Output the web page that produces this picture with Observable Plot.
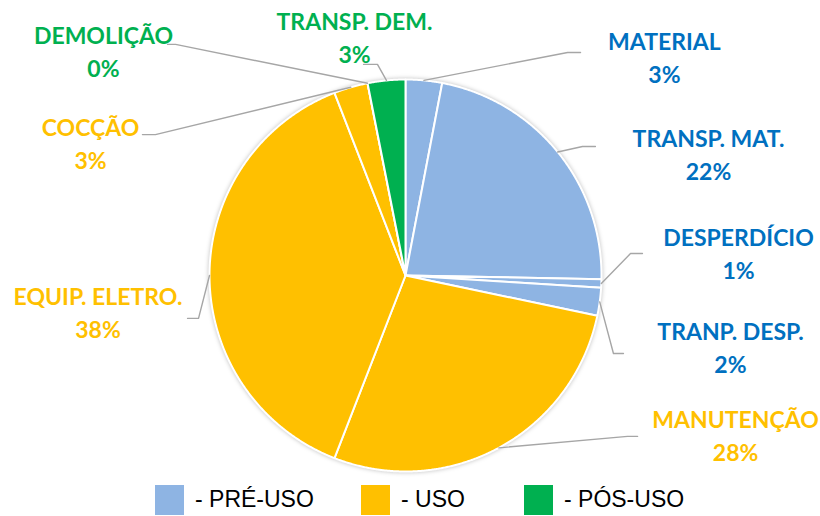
<!DOCTYPE html>
<html><head><meta charset="utf-8">
<script src="https://cdn.jsdelivr.net/npm/d3@7"></script>
<script src="https://cdn.jsdelivr.net/npm/@observablehq/plot@0.6"></script>
<style>
body{margin:0;background:#fff;}
#wrap{position:relative;width:820px;height:516px;overflow:hidden;}
#chart svg g[aria-label="line"]:first-of-type{filter:drop-shadow(0 0 2px rgba(0,0,0,0.25));}
#legend{position:absolute;left:0;top:480px;width:820px;height:36px;}
.key{position:absolute;top:5px;width:29px;height:30px;}
.lab{position:absolute;top:4px;font-family:"Liberation Sans",Arial,sans-serif;font-size:23px;line-height:30px;color:#000;white-space:nowrap;}
</style></head><body>
<div id="wrap"><div id="chart"></div><div id="legend"></div></div>
<script>
// ---- data ----
const categories = ["MATERIAL","TRANSP. MAT.","DESPERDÍCIO","TRANP. DESP.","MANUTENÇÃO","EQUIP. ELETRO.","COCÇÃO","DEMOLIÇÃO","TRANSP. DEM."];
const shares = [3.0, 22.3, 0.7, 2.3, 27.6, 38.2, 2.8, 0.0, 3.1];
const percentLabels = ["3%","22%","1%","2%","28%","38%","3%","0%","3%"];
const phases = ["PRÉ-USO","PRÉ-USO","PRÉ-USO","PRÉ-USO","USO","USO","USO","PÓS-USO","PÓS-USO"];
const phaseOrder = ["PRÉ-USO","USO","PÓS-USO"];
const legendLabels = ["- PRÉ-USO","- USO","- PÓS-USO"];

// ---- layout (pie-radius units) ----
const labelX = [1.321, 1.546, 1.699, 1.658, 1.684, -1.569, -1.607, -1.541, -0.260];
const labelY = [1.153, 0.658, 0.148, -0.327, -0.776, -0.153, 0.714, 1.179, 1.255];
const leaderOuterX = [0.893, 0.969, 1.209, 1.112, 1.184, -1.112, -1.342, -1.214, -0.214];
const leaderElbowX = [0.827, 0.903, 1.148, 1.061, 1.133, -1.056, -1.276, -1.173, -0.143];
const leaderY = [1.138, 0.658, 0.112, -0.398, -0.821, -0.219, 0.719, 1.179, 1.077];

const sliceColors = ["#8EB4E3","#FFC000","#00B050"];
const textColors = {"PRÉ-USO":"#0070C0","USO":"#FFC000","PÓS-USO":"#00B050"};

// ---- build geometry ----
const total = d3.sum(shares);
let cum = 0;
const slices = categories.map((c, i) => {
  const a0 = cum / total * 2 * Math.PI;
  cum += shares[i];
  const a1 = cum / total * 2 * Math.PI;
  return {c, phase: phases[i], pct: percentLabels[i], a0, a1, mid: (a0 + a1) / 2,
          lx: labelX[i], ly: labelY[i]};
});
const piePts = [];
for (const s of slices) {
  piePts.push({c: s.c, phase: s.phase, x: 0, y: 0});
  const n = Math.max(2, Math.ceil((s.a1 - s.a0) / 0.005));
  for (let k = 0; k <= n; k++) {
    const a = s.a0 + (s.a1 - s.a0) * k / n;
    piePts.push({c: s.c, phase: s.phase, x: Math.sin(a), y: Math.cos(a)});
  }
}
const leaderPts = [];
slices.forEach((s, i) => {
  leaderPts.push({c: s.c, x: leaderOuterX[i], y: leaderY[i]});
  leaderPts.push({c: s.c, x: leaderElbowX[i], y: leaderY[i]});
  leaderPts.push({c: s.c, x: Math.sin(s.mid), y: Math.cos(s.mid)});
});

const textMarks = [];
for (const ph of phaseOrder) {
  const common = {x: "lx", y: "ly", filter: d => d.phase === ph, fill: textColors[ph],
    fontFamily: "Lato", fontWeight: "bold", fontSize: 23, textAnchor: "middle", lineAnchor: "bottom"};
  textMarks.push(Plot.text(slices, {...common, text: "c"}));
  textMarks.push(Plot.text(slices, {...common, text: "pct", dy: 33}));
}

const chart = Plot.plot({
  width: 820, height: 480,
  marginLeft: 209, marginRight: 219, marginTop: 79, marginBottom: 9,
  x: {domain: [-1, 1], axis: null},
  y: {domain: [-1, 1], axis: null},
  color: {domain: phaseOrder, range: sliceColors},
  marks: [
    Plot.line(piePts, {x: "x", y: "y", z: "c", fill: "phase", stroke: "white", strokeWidth: 2, curve: "linear-closed"}),
    Plot.line(leaderPts, {x: "x", y: "y", z: "c", stroke: "#A6A6A6", strokeWidth: 1.4}),
    ...textMarks
  ]
});
document.getElementById("chart").appendChild(chart);

// ---- legend ----
const legend = document.getElementById("legend");
const keyLeft = [155, 361, 524];
phaseOrder.forEach((ph, i) => {
  const k = document.createElement("div");
  k.className = "key"; k.style.left = keyLeft[i] + "px"; k.style.background = sliceColors[i];
  legend.appendChild(k);
  const t = document.createElement("div");
  t.className = "lab"; t.style.left = (keyLeft[i] + 40) + "px"; t.textContent = legendLabels[i];
  legend.appendChild(t);
});
</script>
</body></html>
